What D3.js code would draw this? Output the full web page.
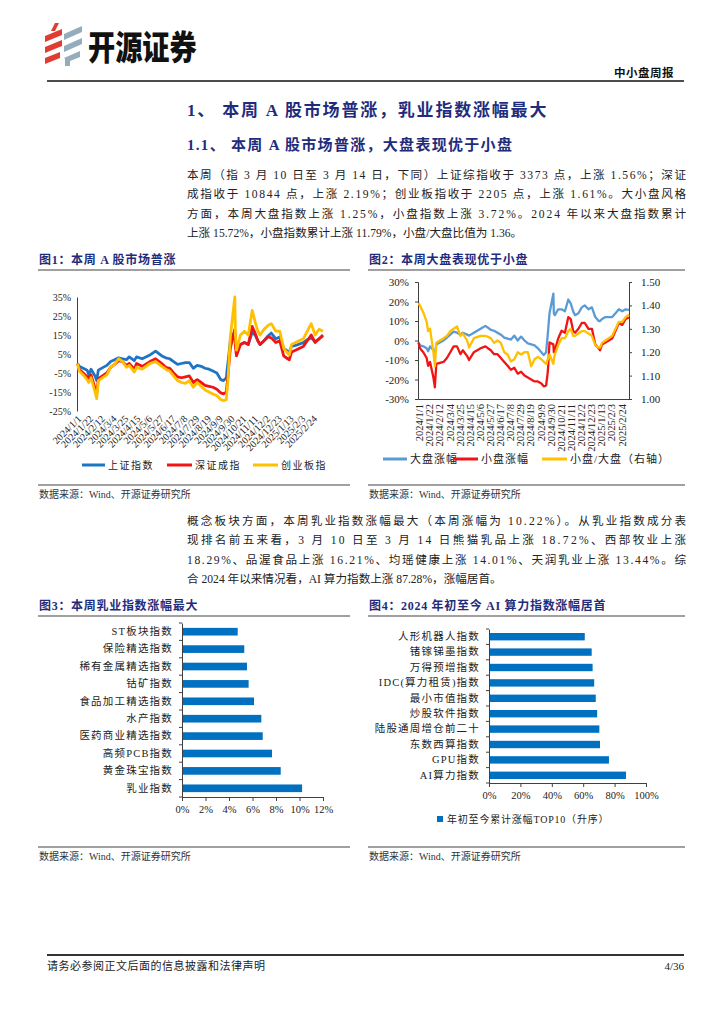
<!DOCTYPE html>
<html>
<head>
<meta charset="utf-8">
<script src="https://cdnjs.cloudflare.com/ajax/libs/d3/7.8.5/d3.min.js"></script>
<style>
body { margin: 0; background: #fff; }
svg { display: block; font-family: "Liberation Serif", "Noto Sans CJK SC", serif; }
.navy { fill: #1f2c7c; font-weight: bold; }
</style>
</head>
<body>
<script>

// ---- data ----
var seriesDates = ["2024/1/2","2024/1/5","2024/1/12","2024/1/19","2024/1/22","2024/1/26","2024/2/2","2024/2/5","2024/2/8","2024/2/23",
  "2024/3/1","2024/3/8","2024/3/15","2024/3/22","2024/3/29","2024/4/3","2024/4/12","2024/4/16","2024/4/26","2024/5/10",
  "2024/5/20","2024/5/31","2024/6/7","2024/6/14","2024/6/21","2024/6/28","2024/7/5","2024/7/12","2024/7/19","2024/7/26",
  "2024/8/2","2024/8/9","2024/8/16","2024/8/23","2024/8/30","2024/9/6","2024/9/13","2024/9/18","2024/9/23","2024/9/24",
  "2024/9/26","2024/9/27","2024/9/30","2024/10/8","2024/10/9","2024/10/11","2024/10/18","2024/10/25","2024/11/1","2024/11/8",
  "2024/11/13","2024/11/18","2024/11/22","2024/11/29","2024/12/6","2024/12/12","2024/12/20","2024/12/27","2025/1/3","2025/1/10",
  "2025/1/13","2025/1/17","2025/1/24","2025/2/7","2025/2/14","2025/2/21","2025/2/28","2025/3/7","2025/3/14"];

// 图1 (%)
var shIndex = [0,-1.5,-2.5,-3.5,-6,-3,-6.5,-9,-3.5,-1, 1,2,3,2.5,2,3.5,1.5,3.5,2.5,4.5,
  6.5,4,3,2.5,1,-0.5,0,0.5,0.5,-2.5, -1,-1.5,-2.5,-3,-4,-5,-8.5,-9,-7.5,-4,
  1,3.5,12,17,9.5,8,10,11,10,16.5, 15,12,10,12,14.5,16,13,14,8,6.5, 6,9,9.5,11,12.5,13.5,11.5,13,14.5];
var szIndex = [0,-3,-5,-7,-8,-6,-13,-16.5,-8,-5, -2,-0.5,1.5,1,-1,0,-3,0,-1.5,1,
  2.5,0,-2,-2.5,-5,-7,-7.5,-7,-6.5,-10, -8.5,-10,-11.5,-12,-12.5,-13.5,-15.5,-16,-15,-11.5,
  -6,-2,8,18,9,4,10,11,10,19.5, 16,12,10,12,14,13.5,11,12,4,2.5, 2,6,7,9,12,15,11,13,15];
var cybIndex = [0,-4,-6,-8.5,-10,-7.5,-15,-18.5,-9,-6, -2,-0.5,2.5,1,-2,-1,-4.5,-2,-3,0,
  1,-1.5,-3,-4,-6.5,-9,-10,-10.5,-9,-12.5, -10,-12,-14,-15,-16,-17,-19,-19.5,-19,-15,
  -8,-2,14,35,15,7,15,17,15,28, 22,17,15,18,20,21,17,17,8,5.5, 4.5,10,11,13,17,21,15,18,17];

// 图2
var bigCap = [-1,-2.5,-3,-4,-5.5,-3,-5,-7,-2,0, 1.5,3,4.5,4,3,4,3,2.5,4,6,
  7.5,5.5,5,4,3,1.5,1,0.5,2.5,0, 2,0,-1.5,-2,-2.5,-4,-6,-7.5,-6,-3,
  2,5,14,24,14,13,16,16,15,21, 19,15,13,14,17,18,16,17,12,10, 10,11,12,12,14,16,15,16,15.7];
var smallCap = [-1,-4,-6,-9,-13,-11,-19,-24,-12,-11, -9,-6,-3,-3,-7,-5,-8,-10,-6,-4,
  -3,-5,-7,-7,-9,-11,-13,-15,-14,-17, -16,-18,-19,-20,-21,-21,-22,-23.5,-23,-21,
  -17,-14,-1,-2,-6,-5,1,5,4,12, 11,5,4,6,9,9,6,6,-2,-4, -5,-2,-1,1,5,9,8,11,11.8];
var smallBigRatio = [1.41,1.40,1.37,1.33,1.29,1.30,1.20,1.14,1.24,1.26, 1.27,1.29,1.30,1.31,1.27,1.28,1.25,1.22,1.26,1.27,
  1.27,1.26,1.24,1.25,1.24,1.20,1.19,1.16,1.17,1.20, 1.19,1.20,1.20,1.14,1.17,1.18,1.17,1.16,1.15,1.15,
  1.17,1.17,1.19,1.15,1.17,1.19,1.23,1.26,1.26,1.29, 1.30,1.27,1.27,1.28,1.29,1.29,1.28,1.27,1.23,1.22,
  1.22,1.24,1.25,1.27,1.30,1.33,1.33,1.35,1.36];

var dateTickLabels = ["2024/1/1","2024/1/22","2024/2/12","2024/3/4","2024/3/25","2024/4/15","2024/5/6","2024/5/27",
  "2024/6/17","2024/7/8","2024/7/29","2024/8/19","2024/9/9","2024/9/30","2024/10/21","2024/11/11","2024/12/2",
  "2024/12/23","2025/1/13","2025/2/3","2025/2/24"];

// 图3 (%)
var fig3Names = ["ST板块指数","保险精选指数","稀有金属精选指数","钴矿指数","食品加工精选指数","水产指数",
  "医药商业精选指数","高频PCB指数","黄金珠宝指数","乳业指数"];
var fig3Values = [4.74,5.30,5.53,5.67,6.13,6.75,6.87,7.66,8.40,10.22];
var fig3Ticks = [0,2,4,6,8,10,12];

// 图4 (%)
var fig4Names = ["人形机器人指数","锗镓锑墨指数","万得预增指数","IDC(算力租赁)指数","最小市值指数","炒股软件指数",
  "陆股通周增仓前二十","东数西算指数","GPU指数","AI算力指数"];
var fig4Values = [61.0,65.4,66.0,67.0,68.0,68.9,70.3,70.7,76.4,87.28];
var fig4Ticks = [0,20,40,60,80,100];

var para1 = [
  "本周（指 3 月 10 日至 3 月 14 日，下同）上证综指收于 3373 点，上涨 1.56%；深证",
  "成指收于 10844 点，上涨 2.19%；创业板指收于 2205 点，上涨 1.61%。大小盘风格",
  "方面，本周大盘指数上涨 1.25%，小盘指数上涨 3.72%。2024 年以来大盘指数累计",
  "上涨 15.72%，小盘指数累计上涨 11.79%，小盘/大盘比值为 1.36。"];
var para2 = [
  "概念板块方面，本周乳业指数涨幅最大（本周涨幅为 10.22%）。从乳业指数成分表",
  "现排名前五来看，3 月 10 日至 3 月 14 日熊猫乳品上涨 18.72%、西部牧业上涨",
  "18.29%、品渥食品上涨 16.21%、均瑶健康上涨 14.01%、天润乳业上涨 13.44%。综",
  "合 2024 年以来情况看，AI 算力指数上涨 87.28%，涨幅居首。"];

// ---- helpers ----
function parseDay(s) { var p = s.split("/"); return new Date(+p[0], +p[1] - 1, +p[2]); }
var days = seriesDates.map(parseDay);
var tickDays = dateTickLabels.map(parseDay);
var fmtDay = d3.timeFormat("%Y/%-m/%-d");
var FONT = "Liberation Serif, Noto Sans CJK SC, serif";

var svg = d3.select("body").append("svg").attr("width", 724).attr("height", 1024);

// ---- page header ----
var logo = svg.append("g");
var red = [[[55,23],[59,23],[55,31],[51,31]], [[45,36],[62,29],[62,35],[45,42]],
           [[45,47],[62,40],[62,46],[45,53]], [[45,58],[60,52],[60,58],[45,64]]];
var grey = [[[64,34],[82,26],[82,32],[64,40]], [[64,46],[82,38],[82,44],[64,52]],
            [[64,58],[80,51],[80,57],[70,61],[70,66],[65,66],[65,59]]];
logo.selectAll(".r").data(red).enter().append("polygon").attr("points", d => d.join(" ")).attr("fill", "#e03c31");
logo.selectAll(".g").data(grey).enter().append("polygon").attr("points", d => d.join(" ")).attr("fill", "#93adbc");
svg.append("text").attr("transform", "translate(88,60) scale(0.8,1)").attr("font-size", 34).attr("font-weight", 900)
  .attr("font-family", "Noto Sans CJK SC").attr("fill", "#111").text("开源证券");
svg.append("text").attr("x", 674).attr("y", 77).attr("text-anchor", "end").attr("font-size", 11.5)
  .attr("font-weight", "bold").attr("letter-spacing", 0.5).attr("fill", "#111").text("中小盘周报");
svg.append("line").attr("x1", 47).attr("x2", 684).attr("y1", 81).attr("y2", 81).attr("stroke", "#111").attr("stroke-width", 1.5);

// ---- headings and paragraphs ----
svg.append("text").attr("class", "navy").attr("x", 187).attr("y", 116).attr("font-size", 17)
  .attr("letter-spacing", 1.8).text("1、 本周 A 股市场普涨，乳业指数涨幅最大");
svg.append("text").attr("class", "navy").attr("x", 187).attr("y", 150).attr("font-size", 15)
  .attr("letter-spacing", 1.3).text("1.1、 本周 A 股市场普涨，大盘表现优于小盘");

function paragraph(lines, y0) {
  lines.forEach(function(t, i) {
    var tx = svg.append("text").attr("x", 187).attr("y", y0 + i * 19.5).attr("font-size", 11.6)
      .attr("fill", "#222").text(t);
    if (i < lines.length - 1) tx.attr("textLength", 499).attr("lengthAdjust", "spacing");
  });
}
paragraph(para1, 178.5);
paragraph(para2, 524.5);

// ---- figure frames ----
function frame(x0, x1, title, yTitle, yBottom) {
  svg.append("text").attr("class", "navy").attr("x", x0 + 1).attr("y", yTitle).attr("font-size", 12)
    .attr("letter-spacing", 0.7).text(title);
  svg.append("line").attr("x1", x0).attr("x2", x1).attr("y1", yTitle + 6).attr("y2", yTitle + 6)
    .attr("stroke", "#808080").attr("stroke-width", 1.5);
  svg.append("line").attr("x1", x0).attr("x2", x1).attr("y1", yBottom).attr("y2", yBottom)
    .attr("stroke", "#808080").attr("stroke-width", 1.5);
  svg.append("text").attr("x", x0 + 1).attr("y", yBottom + 13).attr("font-size", 10).attr("fill", "#333")
    .text("数据来源：Wind、开源证券研究所");
}
frame(38, 350, "图1：本周 A 股市场普涨", 264, 485);
frame(368, 685, "图2：本周大盘表现优于小盘", 264, 485);
frame(38, 350, "图3：本周乳业指数涨幅最大", 610, 847);
frame(368, 685, "图4：2024 年初至今 AI 算力指数涨幅居首", 610, 847);

function styleAxis(g, size) {
  g.attr("font-family", FONT).attr("font-size", size);
  g.selectAll("path, line").attr("stroke", "#404040");
  g.selectAll("text").attr("fill", "#222");
}

function legend(items, y, size, spacing) {
  items.forEach(function(it) {
    svg.append("line").attr("x1", it.x).attr("x2", it.x + it.w).attr("y1", y).attr("y2", y)
      .attr("stroke", it.color).attr("stroke-width", 3);
    svg.append("text").attr("x", it.x + it.w + 3).attr("y", y + size * 0.36).attr("font-size", size)
      .attr("letter-spacing", spacing).attr("fill", "#222").text(it.name);
  });
}

// ---- 图1 ----
var x1 = d3.scaleTime().domain([parseDay("2024/1/1"), parseDay("2025/3/14")]).range([77, 323]);
var y1 = d3.scaleLinear().domain([-25, 35]).range([411, 297]);
svg.append("g").attr("transform", "translate(77,0)")
  .call(d3.axisLeft(y1).tickValues([-25,-15,-5,5,15,25,35]).tickSize(0).tickPadding(6).tickFormat(d => d + "%"))
  .call(g => styleAxis(g, 10));
svg.append("g").attr("transform", "translate(0,411)")
  .call(d3.axisBottom(x1).tickValues(tickDays).tickSize(0).tickFormat(fmtDay))
  .call(g => styleAxis(g, 10))
  .call(g => g.select(".domain").remove())
  .call(g => g.selectAll("text").attr("y", 0).attr("dy", "0.35em").attr("text-anchor", "end")
    .attr("transform", "translate(2,6) rotate(-45)"));
var fig1 = [{v: shIndex, c: "#1f74c4"}, {v: szIndex, c: "#f21414"}, {v: cybIndex, c: "#ffc000"}];
fig1.forEach(function(s) {
  svg.append("path").datum(s.v).attr("fill", "none").attr("stroke", s.c).attr("stroke-width", 2.8)
    .attr("stroke-linejoin", "round")
    .attr("d", d3.line().x((d, i) => x1(days[i])).y(d => y1(d)));
});
legend([{x: 82, w: 23, color: "#1f74c4", name: "上证指数"}, {x: 167, w: 25, color: "#f21414", name: "深证成指"},
        {x: 253, w: 25, color: "#ffc000", name: "创业板指"}], 465, 10, 1.5);

// ---- 图2 ----
var x2 = d3.scaleTime().domain([parseDay("2024/1/1"), parseDay("2025/3/14")]).range([418, 629]);
var y2 = d3.scaleLinear().domain([-30, 30]).range([399, 282]);
var y2r = d3.scaleLinear().domain([1.0, 1.5]).range([399, 282]);
svg.append("g").attr("transform", "translate(418,0)")
  .call(d3.axisLeft(y2).tickValues(d3.range(-30, 31, 10)).tickSize(3).tickPadding(6).tickFormat(d => d + "%"))
  .call(g => styleAxis(g, 11));
svg.append("g").attr("transform", "translate(629,0)")
  .call(d3.axisRight(y2r).tickValues([1.0,1.1,1.2,1.3,1.4,1.5]).tickSize(3).tickPadding(9).tickFormat(d3.format(".2f")))
  .call(g => styleAxis(g, 11));
svg.append("g").attr("transform", "translate(0,399)")
  .call(d3.axisBottom(x2).tickValues(tickDays).tickSize(0).tickFormat(fmtDay))
  .call(g => styleAxis(g, 10.5))
  .call(g => g.selectAll("text").attr("y", 0).attr("dy", "0.35em").attr("text-anchor", "end")
    .attr("transform", "translate(1,5) rotate(-90)"));
svg.append("path").datum(bigCap).attr("fill", "none").attr("stroke", "#5b9bd5").attr("stroke-width", 2.3)
  .attr("stroke-linejoin", "round").attr("d", d3.line().x((d, i) => x2(days[i])).y(d => y2(d)));
svg.append("path").datum(smallCap).attr("fill", "none").attr("stroke", "#f21414").attr("stroke-width", 2.3)
  .attr("stroke-linejoin", "round").attr("d", d3.line().x((d, i) => x2(days[i])).y(d => y2(d)));
svg.append("path").datum(smallBigRatio).attr("fill", "none").attr("stroke", "#ffc000").attr("stroke-width", 2.3)
  .attr("stroke-linejoin", "round").attr("d", d3.line().x((d, i) => x2(days[i])).y(d => y2r(d)));
legend([{x: 383, w: 24, color: "#5b9bd5", name: "大盘涨幅"}, {x: 453, w: 25, color: "#f21414", name: "小盘涨幅"},
        {x: 542, w: 25, color: "#ffc000", name: "小盘/大盘（右轴）"}], 459, 11, 1);

// ---- bar charts ----
function barChart(names, values, ticks, xDomain, xRange, yRange, pad) {
  var x = d3.scaleLinear().domain(xDomain).range(xRange);
  var y = d3.scaleBand().domain(names).range(yRange).paddingInner(pad).paddingOuter(pad / 2);
  svg.append("g").selectAll("rect").data(values).enter().append("rect")
    .attr("x", x(0)).attr("y", (d, i) => y(names[i])).attr("height", y.bandwidth())
    .attr("width", d => x(d) - x(0)).attr("fill", "#0070c0");
  svg.append("g").attr("transform", "translate(" + x(0) + ",0)")
    .call(d3.axisLeft(y).tickSize(0).tickPadding(9))
    .call(g => styleAxis(g, 10.5))
    .call(g => g.selectAll("text").attr("letter-spacing", 1.2));
  var bounds = d3.range(names.length + 1).map(i => yRange[0] + i * y.step());
  svg.append("g").selectAll("line").data(bounds).enter().append("line")
    .attr("x1", x(0) - 3).attr("x2", x(0)).attr("y1", d => d).attr("y2", d => d).attr("stroke", "#404040");
  svg.append("g").attr("transform", "translate(0," + yRange[1] + ")")
    .call(d3.axisBottom(x).tickValues(ticks).tickSize(4).tickPadding(5).tickFormat(d => d + "%"))
    .call(g => styleAxis(g, 10.5));
}
barChart(fig3Names, fig3Values, fig3Ticks, [0, 12], [182, 323], [623, 797], 0.56);
barChart(fig4Names, fig4Values, fig4Ticks, [0, 100], [489, 646], [629, 783], 0.52);
svg.append("rect").attr("x", 437).attr("y", 816).attr("width", 6).attr("height", 6).attr("fill", "#0070c0");
svg.append("text").attr("x", 447).attr("y", 823).attr("font-size", 10).attr("letter-spacing", 0.8)
  .attr("fill", "#222").text("年初至今累计涨幅TOP10（升序）");

// ---- footer ----
svg.append("line").attr("x1", 47).attr("x2", 684).attr("y1", 955).attr("y2", 955).attr("stroke", "#333").attr("stroke-width", 2);
svg.append("text").attr("x", 47).attr("y", 970).attr("font-size", 11).attr("fill", "#222")
  .attr("letter-spacing", 0.5).text("请务必参阅正文后面的信息披露和法律声明");
svg.append("text").attr("x", 684).attr("y", 970).attr("text-anchor", "end").attr("font-size", 11)
  .attr("fill", "#222").text("4/36");

</script>
</body>
</html>
